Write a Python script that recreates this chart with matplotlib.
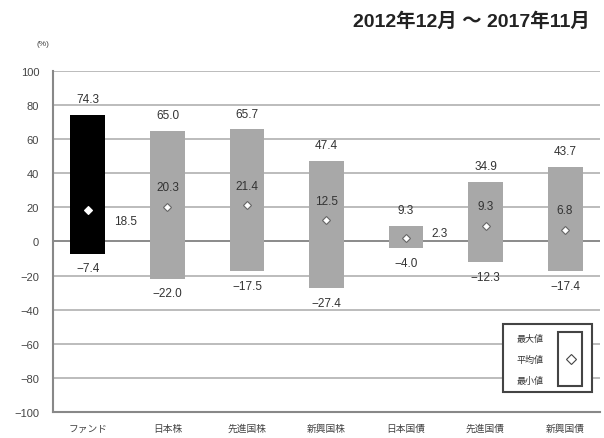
import matplotlib.pyplot as plt
from matplotlib.patches import Rectangle
import numpy as np

plt.rcParams['font.family'] = ['Liberation Sans', 'Noto Sans CJK JP', 'DejaVu Sans']

categories = ['ファンド', '日本株', '先進国株', '新興国株', '日本国債', '先進国債', '新興国債']
max_vals = [74.3, 65.0, 65.7, 47.4, 9.3, 34.9, 43.7]
mean_vals = [18.5, 20.3, 21.4, 12.5, 2.3, 9.3, 6.8]
min_vals = [-7.4, -22.0, -17.5, -27.4, -4.0, -12.3, -17.4]

# mean label to the right of the bar for these (vertical offset in points)
side_offset = {0: -8, 4: 3}

W, H = 604, 439
fig = plt.figure(figsize=(W / 100, H / 100), dpi=100)
ax = fig.add_axes([53 / W, 1 - 413 / H, (600 - 53) / W, (413 - 72) / H])

x = np.arange(len(categories))
colors = ['black'] + ['#a8a8a8'] * (len(categories) - 1)
heights = np.array(max_vals) - np.array(min_vals)
ax.bar(x, heights, bottom=min_vals, width=0.44, color=colors, zorder=3)

txt = dict(fontsize=8.5, color='#333333')
for i in range(len(x)):
    ec = 'white' if i == 0 else '#666666'
    ax.plot(x[i], mean_vals[i], marker='D', ms=4.5, mfc='white', mec=ec, mew=0.8, zorder=4)
    ax.annotate(f'{max_vals[i]:.1f}', (x[i], max_vals[i]), xytext=(0, 7),
                textcoords='offset points', ha='center', va='bottom', **txt)
    ax.annotate(f'{min_vals[i]:.1f}'.replace('-', '−'), (x[i], min_vals[i]), xytext=(0, -6),
                textcoords='offset points', ha='center', va='top', **txt)
    if i in side_offset:
        ax.annotate(f'{mean_vals[i]:.1f}', (x[i] + 0.22, mean_vals[i]), xytext=(6, side_offset[i]),
                    textcoords='offset points', ha='left', va='center', zorder=5,
                    bbox=dict(fc='white', ec='none', pad=0.5), **txt)
    else:
        ax.annotate(f'{mean_vals[i]:.1f}', (x[i], mean_vals[i]), xytext=(0, 14),
                    textcoords='offset points', ha='center', va='center', **txt)

ax.set_xlim(-0.44, 6.44)
ax.set_ylim(-100, 100)
ax.set_yticks(np.arange(-100, 101, 20))
ax.set_yticklabels([str(v).replace('-', '−') for v in range(-100, 101, 20)])
ax.set_xticks(x)
ax.set_xticklabels(categories)
ax.tick_params(axis='both', length=0, colors='#444444')
ax.tick_params(axis='y', pad=10, labelsize=8)
ax.tick_params(axis='x', pad=8, labelsize=7)
ax.yaxis.grid(True, color='#b0b0b0', lw=1.2, zorder=0)
ax.axhline(0, color='#888888', lw=1.3, zorder=1)
ax.set_axisbelow(True)
for s in ['top', 'right']:
    ax.spines[s].set_visible(False)
for s in ['left', 'bottom']:
    ax.spines[s].set_color('#888888')
    ax.spines[s].set_linewidth(1.5)

fig.text(43 / W, 1 - 45 / H, '(%)', fontsize=6, color='#444444', ha='center', va='center')
fig.text(590 / W, 1 - 22 / H, '2012年12月 ～ 2017年11月', fontsize=14, fontweight='bold',
         ha='right', va='center', color='#222222')

# legend box
fig.patches.append(Rectangle((503 / W, 1 - 393 / H), 89 / W, 68 / H, transform=fig.transFigure,
                             fill=True, facecolor='white', edgecolor='#444444', lw=1.5, zorder=5))
fig.patches.append(Rectangle((558 / W, 1 - 387 / H), 24 / W, 54 / H, transform=fig.transFigure,
                             fill=False, edgecolor='#444444', lw=1.5, zorder=6))
for lab, yy in zip(['最大値', '平均値', '最小値'], [339, 360, 381]):
    fig.text(530 / W, 1 - yy / H, lab, fontsize=6.5, ha='center', va='center', color='#333333', zorder=7)
fig.lines.append(plt.Line2D([571 / W], [1 - 360 / H], transform=fig.transFigure, marker='D', ms=5,
                            mfc='white', mec='#444444', mew=0.8, zorder=7))

fig.savefig('out.png', dpi=100)
